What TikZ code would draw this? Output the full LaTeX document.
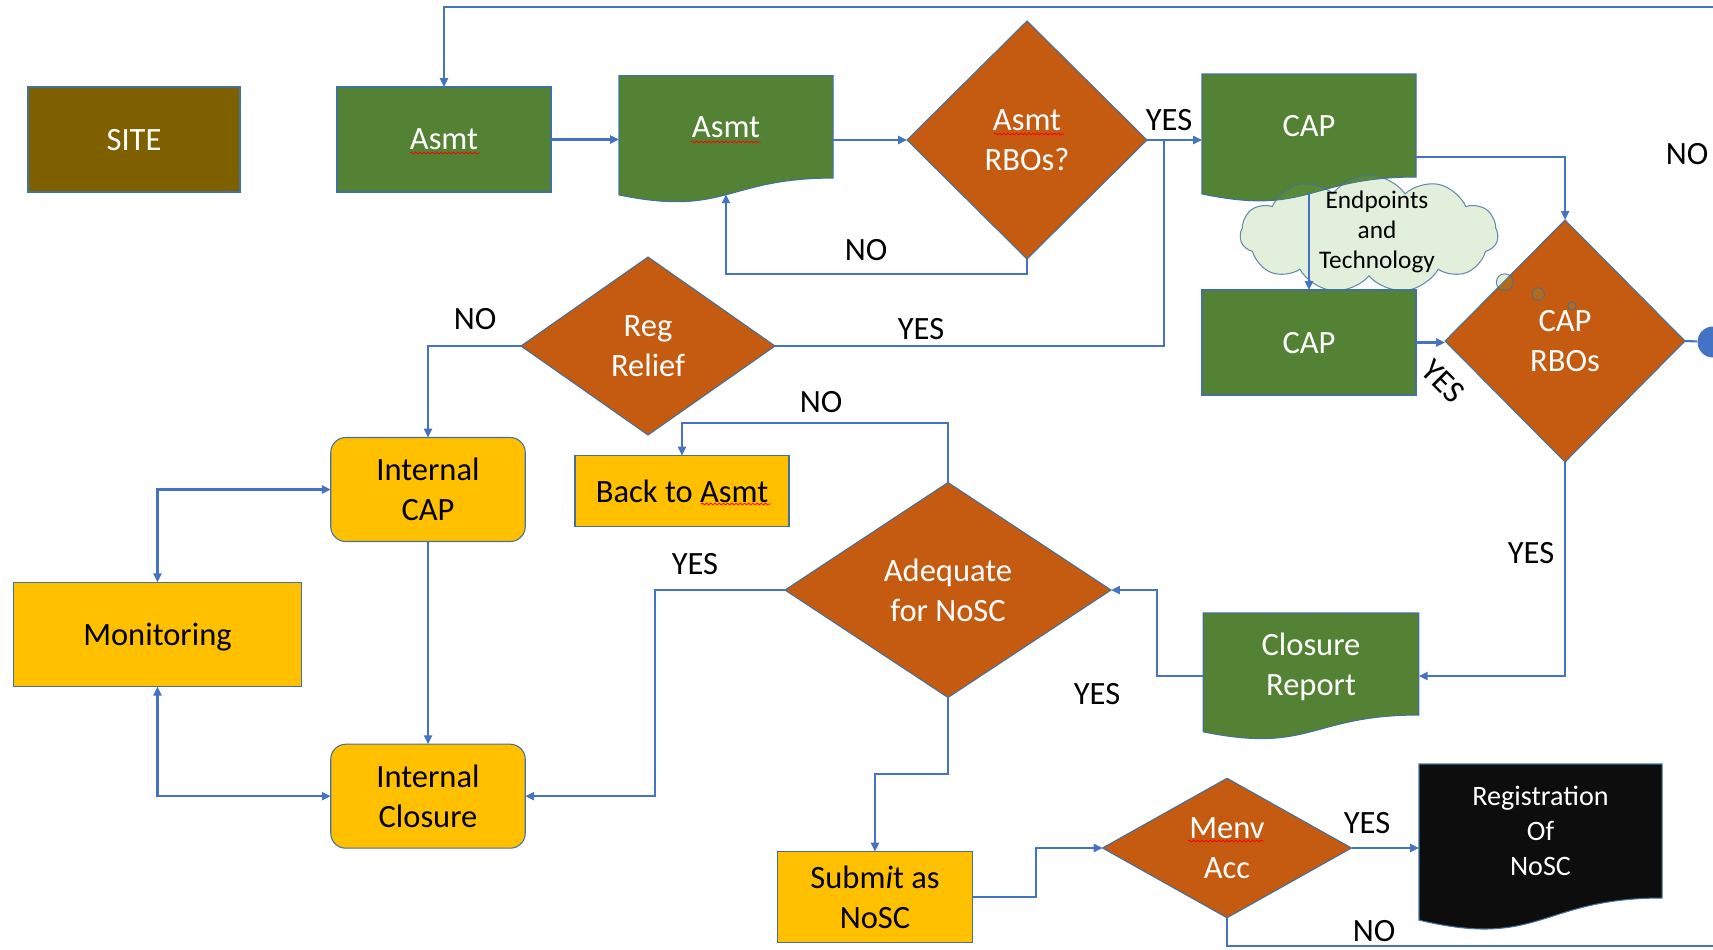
\documentclass[tikz,border=0pt]{standalone}
\usepackage{fontspec}
\setmainfont{Carlito}
\usetikzlibrary{arrows.meta,
                shapes.geometric, % diamonds
                shapes.symbols,shapes.callouts, % the cloud
                backgrounds,calc,
                decorations.pathmorphing}

\definecolor{leaf}{HTML}{548235}
\definecolor{rust}{HTML}{C55A11}
\definecolor{amber}{HTML}{FFC000}
\definecolor{sitebrown}{HTML}{7F6000}
\definecolor{wire}{HTML}{4472C4}
\definecolor{rim}{HTML}{41719C}
\definecolor{mist}{HTML}{70AD47}
\definecolor{ink}{HTML}{0D0D0D}

\tikzset{
  box/.style={rectangle, draw=rim, line width=.6pt, inner sep=0pt, outer sep=0pt, align=center, text depth=0pt},
  greenbox/.style={box, fill=leaf, text=white, minimum width=42.8mm, minimum height=21mm},
  yellowbox/.style={box, fill=amber, text=black},
  roundbox/.style={yellowbox, rounded corners=3mm, minimum width=38.9mm, minimum height=20.8mm},
  docbox/.style={rectangle, inner sep=0pt, outer sep=0pt, align=center, text=white, text depth=0pt},
  decision/.style={diamond, draw=rim, line width=.6pt, fill=rust, text=white, align=center, inner sep=0pt, outer sep=0pt, text depth=0pt},
  lbl/.style={text=black, inner sep=1pt},
  wireline/.style={draw=wire, line width=1.2pt},
  flow/.style={wireline, -{Triangle[length=5pt,width=4.5pt]}},
  twoway/.style={wireline, {Triangle[length=5pt,width=4.5pt]}-{Triangle[length=5pt,width=4.5pt]}},
  typo/.style={draw=red, line width=.45pt, decorate, decoration={snake, amplitude=.5pt, segment length=2.4pt}},
}

\begin{document}
\begin{tikzpicture}[x=0.2mm, y=-0.2mm, font=\fontsize{18.5}{22.7}\selectfont]
  \useasboundingbox (0,0) rectangle (1713,949);
  \clip (0,0) rectangle (1713,949);

  % Nodes
  \node[box, fill=sitebrown, text=white, minimum width=42.4mm, minimum height=21mm] (site) at (134,139.5) {SITE};
  \node[greenbox] (asmta) at (444,139.5) {Asmt};
  \node[docbox, minimum width=42.8mm, minimum height=20.46mm] (asmtb) at (726,126.9) {Asmt};
  \node[decision, aspect=1, minimum width=48mm, minimum height=47.6mm] (rboa) at (1027,140) {Asmt\\RBOs?};
  \node[docbox, minimum width=42.8mm, minimum height=20.6mm] (capa) at (1309,125.5) {CAP};
  \node[greenbox] (capb) at (1309,342.5) {CAP};
  \node[decision, aspect=1, minimum width=48mm, minimum height=48.4mm] (rbob) at (1565,341) {CAP\\RBOs};
  \node[circle, fill=wire, minimum size=6.2mm, inner sep=0pt] (conn) at (1713,342) {};

  \node[decision, aspect=1.43, minimum width=50.8mm, minimum height=35.6mm] (reg) at (648,346) {Reg\\Relief};
  \node[roundbox] (icap) at (428,489.5) {Internal\\CAP};
  \node[yellowbox, minimum width=42.8mm, minimum height=14.2mm] (back) at (682,491) {Back to Asmt};
  \node[yellowbox, minimum width=57.6mm, minimum height=20.9mm] (mon) at (157.5,634.5) {Monitoring};
  \node[decision, aspect=1.54, minimum width=65.2mm, minimum height=43mm] (adeq) at (948,590) {Adequate\\for NoSC};
  \node[docbox, minimum width=43.1mm, minimum height=20.4mm] (clos) at (1311,664) {Closure\\Report};
  \node[roundbox] (iclo) at (428,796.2) {Internal\\Closure};
  \node[yellowbox, minimum width=39.1mm, minimum height=18.2mm] (sub) at (875,897) {Subm\textit{i}t as\\NoSC};
  \node[decision, aspect=1.8, minimum width=49.8mm, minimum height=27.9mm] (menv) at (1227,848) {Menv\\Acc};
  \node[docbox, minimum width=48.6mm, minimum height=26.8mm, font=\fontsize{16}{19.8}\selectfont] (regnosc) at (1540.5,831) {Registration\\Of\\NoSC};

  % wavy bottoms of the document shapes
  \begin{scope}[on background layer]
    \foreach \nd/\fillc in {asmtb/leaf, capa/leaf, clos/leaf, regnosc/ink}
      \filldraw[fill=\fillc, draw=rim, line width=.6pt] (\nd.north west) -- (\nd.north east) -- (\nd.south east)
        .. controls (\nd.south) and ($(\nd.south)!-.381!(\nd.north)$) .. ($(\nd.south west)!-.165!(\nd.north west)$) -- cycle;
  \end{scope}

  % Cloud
  \node[cloud callout, cloud puffs=11, cloud puff arc=110, aspect=2.19, minimum width=51.6mm, minimum height=23.6mm,
        fill=mist, fill opacity=.2, draw=rim, draw opacity=.8, line width=.6pt,
        callout absolute pointer={(1572,306)}, callout pointer segments=3,
        callout pointer start size=4.2mm and 4.2mm, callout pointer end size=1.6mm and 1.6mm] (cloud) at (1369,234) {};
  \node[align=center, inner sep=0pt, font=\fontsize{14.4}{17}\selectfont] (tech) at (1377,232) {Endpoints\\and\\Technology};

  % Edges
  \coordinate (topend) at (1720,6.7);
  \coordinate (join) at (1164,139.5);
  \coordinate (botend) at (1720,946);

  \draw[flow] (topend) -| (asmta.north);
  \draw[flow] (asmta.east) -- (asmta.east -| asmtb.west);
  \draw[flow] (asmtb.east |- rboa.west) -- (rboa.west);
  \draw[flow] (rboa.south) -- ++(0,15) -| ($(asmtb.south)!-.16!(asmtb.north)$);
  \draw[flow] (rboa.east) -- (rboa.east -| capa.west);
  \draw[wireline] (reg.east) -| (join);
  \draw[flow] (reg.west) -| (icap.north);
  \draw[flow] ([yshift=-6.3mm]capa.east) -| (rbob.north);
  \draw[flow] ($(capa.south)!-.16!(capa.north)$) -- (capb.north);
  \draw[flow] (capb.east) -- (capb.east -| rbob.west);
  \draw[wireline] (rbob.east) -- (conn);
  \draw[flow] (rbob.south) |- ([yshift=-2.4mm]clos.east);
  \draw[flow] ([yshift=-2.4mm]clos.west) -- ++(-46,0) |- (adeq.east);
  \draw[flow] (adeq.north) -- ++(0,-59.5) -| (back.north);
  \draw[flow] (adeq.west) -- ++(-130,0) |- (iclo.east);
  \draw[flow] (adeq.south) -- ++(0,76.5) -| (sub.north);
  \draw[flow] (sub.east) -- ++(63,0) |- (menv.west);
  \draw[flow] (menv.east) -- (menv.east -| regnosc.west);
  \draw[wireline] (menv.south) |- (botend);
  \draw[flow] (icap.south) -- (iclo.north);
  \draw[twoway] (icap.west) -| (mon.north);
  \draw[twoway] (mon.south) |- (iclo.west);

  % Labels
  \node[lbl] (yesa) at (1169,120) {YES};
  \node[lbl] (noa) at (866,250) {NO};
  \node[lbl] (nob) at (1687,154) {NO};
  \node[lbl] (noc) at (475,319) {NO};
  \node[lbl] (yesb) at (921,329) {YES};
  \node[lbl, rotate=-45] (yesc) at (1443,381) {YES};
  \node[lbl] (nod) at (821,402) {NO};
  \node[lbl] (yesd) at (1531,553) {YES};
  \node[lbl] (yese) at (695,564) {YES};
  \node[lbl] (yesf) at (1097,694) {YES};
  \node[lbl] (yesg) at (1367,823) {YES};
  \node[lbl] (noe) at (1374,931) {NO};

  % spelling marks
  \draw[typo] ($(asmta.center)+(-34,13.5)$) -- ++(70,0);
  \draw[typo] ($(asmtb.center)+(-35,15)$) -- ++(70,0);
  \draw[typo] ($(rboa.center)+(-33,-6)$) -- ++(70,0);
  \draw[typo] ($(back.center)+(19,13)$) -- ++(70,0);
  \draw[typo] ($(menv.center)+(-39,-7)$) -- ++(76,0);
\end{tikzpicture}
\end{document}
